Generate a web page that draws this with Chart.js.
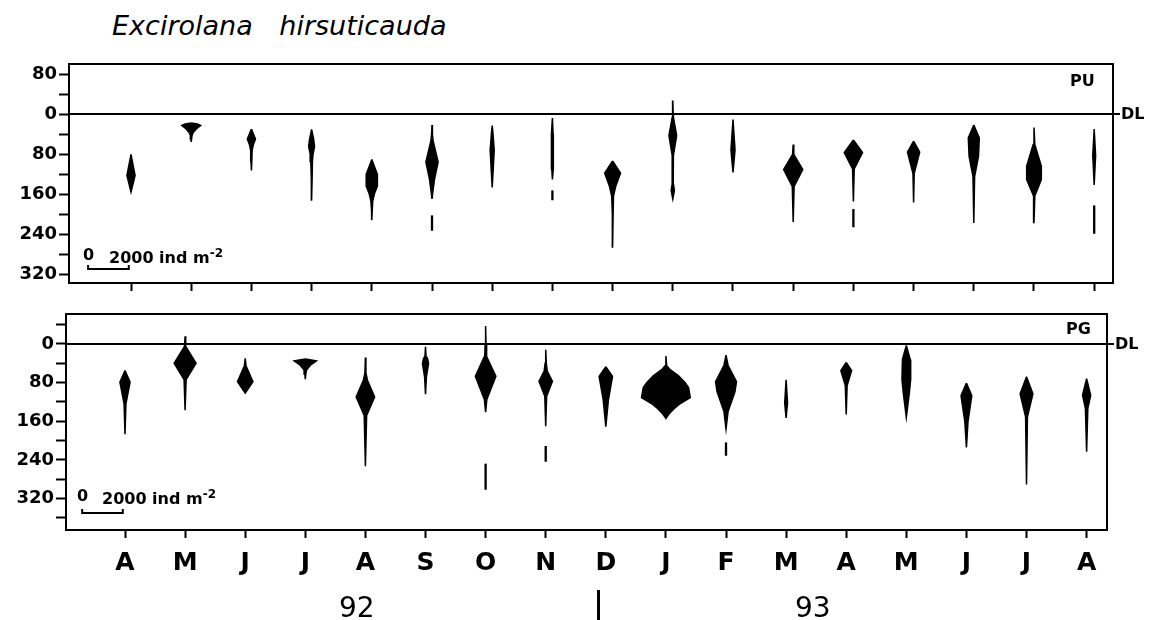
<!DOCTYPE html>
<html>
<head>
<meta charset="utf-8">
<script src="https://cdn.jsdelivr.net/npm/chart.js@4.4.1/dist/chart.umd.min.js"></script>
<style>
  body { margin: 0; background: #fff; }
  #page { position: relative; width: 1157px; height: 620px; overflow: hidden; font-family: "DejaVu Sans", sans-serif; color: #000; }
  .box { position: absolute; left: 0; width: 1157px; }
  .txt { position: absolute; white-space: nowrap; line-height: 1; }
  #title { left: 112px; top: 12px; font-size: 27px; font-style: italic; word-spacing: 18px; }
  .tag { font-size: 16px; font-weight: bold; }
  .bar0 { font-size: 16px; font-weight: bold; }
  .year { font-size: 28px; }
</style>
</head>
<body>
<div id="page">
  <div id="title" class="txt">Excirolana hirsuticauda</div>
  <div class="box" style="top:0;height:300px"><canvas id="puChart"></canvas></div>
  <div class="box" style="top:300px;height:320px"><canvas id="pgChart"></canvas></div>

  <div class="txt tag" style="left:1070px;top:73px">PU</div>
  <div class="txt tag" style="left:1121px;top:106px">DL</div>
  <div class="txt tag" style="left:1066px;top:321px">PG</div>
  <div class="txt tag" style="left:1115px;top:336px">DL</div>

  <div class="txt bar0" style="left:83px;top:247px">0</div>
  <div class="txt bar0" style="left:109px;top:247px">2000 ind m<sup style="font-size:12px">-2</sup></div>
  <div class="txt bar0" style="left:77px;top:488px">0</div>
  <div class="txt bar0" style="left:102px;top:488px">2000 ind m<sup style="font-size:12px">-2</sup></div>

  <div class="txt year" style="left:339px;top:594px">92</div>
  <div class="txt year" style="left:795px;top:594px">93</div>
  <div style="position:absolute;left:597px;top:590px;width:3px;height:30px;background:#000"></div>
</div>

<script>
// months sampled, Apr 1992 - Aug 1993
const months = ['A', 'M', 'J', 'J', 'A', 'S', 'O', 'N', 'D', 'J', 'F', 'M', 'A', 'M', 'J', 'J', 'A'];
const MONTH_STEP = 2960;       // spacing of the months on the x axis, in ind m-2
const scaleBarLen = 2000;      // ind m-2

// depth below the drift line (cm) and kite width (ind m-2); null = gap
const puDepth = [
  [81, 123, 156],
  [18, 20, 23, 30, 37, 43, 50, 56],
  [30, 50, 62, 73, 95, 113],
  [31, 50, 65, 80, 95, 130, 172],
  [91, 121, 144, 160, 174, 195, 211],
  [22, 40, 53, 96, 130, 160, 170, null, 203, 232],
  [23, 40, 72, 110, 147],
  [8, 40, 84, 110, 131, null, 153, 171],
  [94, 118, 145, 164, 200, 266],
  [-27, 0, 7, 43, 83, 137, 153, 170],
  [11, 72, 117],
  [61, 81, 111, 145, 216],
  [52, 77, 110, 175, null, 190, 225],
  [54, 76, 119, 177],
  [22, 48, 85, 125, 218],
  [27, 61, 104, 131, 164, 217],
  [30, 83, 142, null, 183, 238]
];
const puDens = [
  [0, 400, 0],
  [0, 600, 930, 500, 200, 80, 40, 0],
  [0, 400, 180, 70, 40, 0],
  [0, 200, 290, 140, 80, 50, 0],
  [0, 550, 550, 250, 90, 40, 0],
  [0, 40, 100, 600, 250, 60, 0, null, 40, 40],
  [0, 80, 200, 100, 0],
  [0, 70, 120, 60, 0, null, 40, 40],
  [0, 780, 300, 90, 50, 0],
  [0, 40, 60, 380, 60, 40, 160, 0],
  [0, 200, 0],
  [0, 60, 940, 90, 0],
  [0, 900, 80, 0, null, 40, 40],
  [0, 600, 60, 0],
  [0, 540, 460, 80, 0],
  [0, 80, 720, 720, 80, 0],
  [0, 140, 0, null, 40, 40]
];

const pgDepth = [
  [55, 79, 124, 187],
  [-16, 5, 40, 74, 137],
  [30, 45, 78, 102],
  [31, 33, 35, 44, 54, 62, 73],
  [28, 60, 75, 110, 148, 253],
  [6, 25, 30, 40, 68, 104],
  [-37, 0, 20, 26, 67, 115, 141, null, 248, 300],
  [12, 40, 56, 77, 108, 170, null, 211, 242],
  [47, 67, 115, 171],
  [25, 45, 52, 66, 80, 90, 111, 125, 134, 145, 154],
  [23, 44, 78, 99, 140, 176, null, 204, 230],
  [74, 122, 153],
  [38, 55, 86, 146],
  [3, 32, 73, 101, 152],
  [81, 107, 160, 214],
  [68, 103, 151, 291],
  [72, 106, 133, 223]
];
const pgDens = [
  [0, 500, 90, 0],
  [0, 60, 1080, 100, 0],
  [0, 80, 760, 0],
  [0, 600, 1100, 500, 120, 50, 0],
  [0, 50, 200, 910, 120, 0],
  [0, 50, 200, 300, 90, 0],
  [0, 40, 80, 120, 1010, 120, 0, null, 40, 40],
  [0, 60, 150, 660, 90, 0, null, 40, 40],
  [0, 660, 260, 0],
  [0, 80, 350, 1250, 1900, 2230, 2400, 1300, 800, 300, 0],
  [0, 200, 1030, 880, 200, 0, null, 40, 40],
  [0, 140, 0],
  [0, 530, 90, 0],
  [0, 380, 430, 300, 0],
  [0, 530, 160, 0],
  [0, 630, 90, 0],
  [0, 400, 120, 0]
];

const puTicks = [-80, -40, 0, 40, 80, 120, 160, 200, 240, 280, 320];
const pgTicks = [-40, 0, 40, 80, 120, 160, 200, 240, 280, 320, 360];

// turn one month's profile into closed kite shapes (one per unbroken run)
function kiteDatasets(depths, dens) {
  const sets = [];
  depths.forEach((col, i) => {
    const cx = i * MONTH_STEP;
    let run = [];
    const flush = () => {
      if (!run.length) return;
      const right = run.map(p => ({ x: cx + p[1] / 2, y: p[0] }));
      const left = run.slice().reverse().map(p => ({ x: cx - p[1] / 2, y: p[0] }));
      sets.push({
        data: right.concat(left),
        borderColor: '#000', backgroundColor: '#000', borderWidth: 1.5,
        pointRadius: 0, tension: 0, fill: 'shape'
      });
      run = [];
    };
    col.forEach((d, k) => {
      if (d === null) flush();
      else run.push([d, dens[i][k]]);
    });
    flush();
  });
  return sets;
}

// frame, drift line and scale bar
const framePlugin = {
  id: 'frame',
  afterDraw(chart, args, opts) {
    const { ctx, chartArea: a, scales } = chart;
    ctx.save();
    ctx.strokeStyle = '#000';
    ctx.lineWidth = 2;
    ctx.strokeRect(a.left, a.top, a.right - a.left, a.bottom - a.top);
    const y0 = scales.y.getPixelForValue(0);
    ctx.beginPath();
    ctx.moveTo(a.left, y0);
    ctx.lineTo(a.right + 7, y0);
    ctx.stroke();
    const bx1 = scales.x.getPixelForValue(opts.barStart);
    const bx2 = scales.x.getPixelForValue(opts.barStart + scaleBarLen);
    const by = scales.y.getPixelForValue(opts.barDepth);
    ctx.beginPath();
    ctx.moveTo(bx1, by - 4);
    ctx.lineTo(bx1, by);
    ctx.lineTo(bx2, by);
    ctx.lineTo(bx2, by - 4);
    ctx.stroke();
    ctx.restore();
  }
};

function panelOptions(p) {
  return {
    responsive: true,
    maintainAspectRatio: false,
    animation: false,
    layout: { padding: p.padding },
    plugins: {
      legend: { display: false },
      tooltip: { enabled: false },
      frame: { barStart: p.barStart, barDepth: p.barDepth }
    },
    scales: {
      x: {
        type: 'linear', min: p.xMin, max: p.xMax,
        afterBuildTicks: s => { s.ticks = months.map((m, i) => ({ value: i * MONTH_STEP })); },
        afterFit: s => { s.height = p.xHeight; },
        border: { display: false },
        grid: { drawOnChartArea: false, tickLength: 8, tickColor: '#000', tickWidth: 2 },
        ticks: {
          display: p.showMonths, autoSkip: false, maxRotation: 0, padding: 10, color: '#000',
          font: { family: 'DejaVu Sans', weight: 'bold', size: 25 },
          callback: (v, i) => months[i]
        }
      },
      y: {
        type: 'linear', reverse: true, min: p.yMin, max: p.yMax,
        afterBuildTicks: s => { s.ticks = p.ticks.map(v => ({ value: v })); },
        afterFit: s => { s.width = p.yWidth; },
        border: { display: false },
        grid: { drawOnChartArea: false, tickLength: 10, tickColor: '#000', tickWidth: 2 },
        ticks: {
          autoSkip: false, padding: 2, color: '#000',
          font: { family: 'DejaVu Sans', weight: 'bold', size: 18 },
          callback: v => (v % 80 === 0 ? Math.abs(v) : '')
        }
      }
    }
  };
}

new Chart(document.getElementById('puChart'), {
  type: 'line',
  data: { datasets: kiteDatasets(puDepth, puDens) },
  options: panelOptions({
    padding: { top: 64, right: 44, bottom: 7, left: 0 },
    xMin: -3049, xMax: 48285, xHeight: 10, showMonths: false,
    yMin: -100, yMax: 338, yWidth: 69, ticks: puTicks,
    barStart: -2110, barDepth: 310
  }),
  plugins: [framePlugin]
});

new Chart(document.getElementById('pgChart'), {
  type: 'line',
  data: { datasets: kiteDatasets(pgDepth, pgDens) },
  options: panelOptions({
    padding: { top: 14, right: 50, bottom: 30, left: 0 },
    xMin: -2906, xMax: 48364, xHeight: 60, showMonths: true,
    yMin: -62, yMax: 385, yWidth: 66, ticks: pgTicks,
    barStart: -2110, barDepth: 350
  }),
  plugins: [framePlugin]
});
</script>
</body>
</html>
